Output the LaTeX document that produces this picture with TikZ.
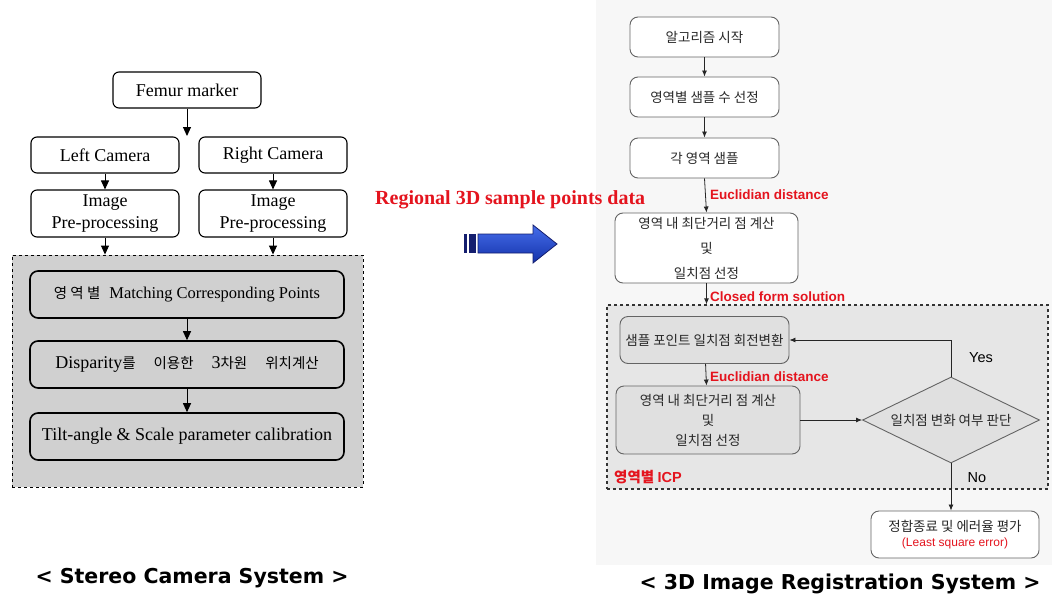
\documentclass[tikz,border=0pt]{standalone}
\usepackage{fontspec}
\setmainfont{Liberation Serif}
\newfontfamily\kr{Noto Sans CJK KR}
\newfontfamily\arialf{Liberation Sans}
\newfontfamily\verd{DejaVu Sans}
\usetikzlibrary{shapes.geometric,arrows.meta}
\definecolor{lred}{RGB}{228,20,30}
\definecolor{lgray}{RGB}{208,208,208}
\definecolor{icpgray}{RGB}{230,230,230}
\definecolor{boxgray}{RGB}{224,224,224}
\definecolor{bordgray}{RGB}{100,100,100}
\definecolor{txtgray}{RGB}{40,40,40}
\definecolor{navy}{RGB}{20,30,110}
\tikzset{
  lbox/.style={draw=black, line width=1.1pt, rounded corners=6pt, fill=white, inner sep=0pt, align=center, font=\fontsize{18}{22}\selectfont},
  gbox/.style={draw=black, line width=1.6pt, rounded corners=8pt, fill=lgray, inner sep=0pt, minimum width=314pt, minimum height=47pt, align=center, font=\fontsize{18}{20}\selectfont},
  rbox/.style={draw=bordgray, line width=0.9pt, rounded corners=8pt, fill=white, inner sep=0pt, align=center, text=txtgray, font=\kr\fontsize{13.5}{25}\selectfont},
  larr/.style={-{Triangle[length=9pt,width=8pt]}, line width=1pt},
  rarr/.style={-{Latex[length=6pt,width=5pt]}, line width=0.8pt, draw=black!85},
  redlab/.style={text=lred, font=\arialf\bfseries\fontsize{13.5}{15}\selectfont, anchor=west, inner sep=0pt},
}
\begin{document}
\begin{tikzpicture}[x=1pt,y=-1pt]
\useasboundingbox (0,0) rectangle (1052,597);
% right panel faint background
\fill[black!3] (596,0) rectangle (1052,565);

% ---------- Left: Stereo camera system ----------
\node[lbox, minimum width=148pt, minimum height=36pt] (femur) at (187,90) {Femur marker};
\node[lbox, minimum width=148pt, minimum height=36pt] (lcam) at (105,155) {Left Camera};
\node[lbox, minimum width=148pt, minimum height=36pt] (rcam) at (273,155) {Right Camera};
\node[lbox, minimum width=148pt, minimum height=47pt] (lpre) at (105,213.5) {Image\\Pre-processing};
\node[lbox, minimum width=148pt, minimum height=47pt] (rpre) at (273,213.5) {Image\\Pre-processing};
\node[draw=black, dashed, line width=0.9pt, fill=lgray, minimum width=351pt, minimum height=232pt, inner sep=0pt] (stereo) at (187.5,371) {};
\node[gbox] (b1) at (187,294.5) {{\kr\fontsize{14.5}{20}\selectfont 영 역 별}\ \ {\fontsize{16.5}{20}\selectfont Matching Corresponding Points}};
\node[gbox] (b2) at (187,364.5) {Disparity{\kr\fontsize{14.5}{20}\selectfont 를}\quad{\kr\fontsize{14.5}{20}\selectfont 이용한}\quad 3{\kr\fontsize{14.5}{20}\selectfont 차원}\quad{\kr\fontsize{14.5}{20}\selectfont 위치계산}};
\node[gbox] (b3) at (187,436.5) {Tilt-angle \& Scale parameter calibration};
\coordinate (fsplit) at (187,136);
\draw[larr] (femur.south) -- (fsplit);
\draw[larr] (lcam) -- (lpre);
\draw[larr] (rcam) -- (rpre);
\draw[larr] (lpre.south) -- (lpre.south |- stereo.north);
\draw[larr] (rpre.south) -- (rpre.south |- stereo.north);
\draw[larr] (b1) -- (b2);
\draw[larr] (b2) -- (b3);
\node[font=\verd\bfseries\fontsize{20.5}{22}\selectfont, inner sep=0pt] (lcap) at (192,578) {< Stereo Camera System >};

% ---------- Middle ----------
\node[text=lred, font=\bfseries\fontsize{20}{22}\selectfont, inner sep=0pt, anchor=west] (reg) at (375,200) {Regional 3D sample points data};
\fill[navy] (464,234) rectangle (467,253);
\fill[navy] (469,234) rectangle (476,253);
\draw[navy, line width=0.8pt, top color={rgb,255:red,70;green,110;blue,235}, bottom color={rgb,255:red,20;green,50;blue,170}]
  (478,234) -- (533,234) -- (533,225) -- (557,244) -- (533,263) -- (533,253) -- (478,253) -- cycle;

% ---------- Right: 3D image registration ----------
\node[rbox, minimum width=149pt, minimum height=40pt] (r1) at (704.5,37) {알고리즘 시작};
\node[rbox, minimum width=149pt, minimum height=40pt] (r2) at (704.5,97) {영역별 샘플 수 선정};
\node[rbox, minimum width=149pt, minimum height=40pt] (r3) at (704.5,158) {각 영역 샘플};
\node[rbox, minimum width=183pt, minimum height=70pt] (r4) at (706.5,248) {영역 내 최단거리 점 계산\\및\\일치점 선정};
\node[draw=black!80, dashed, line width=1.3pt, fill=icpgray, minimum width=441pt, minimum height=184pt, inner sep=0pt] (icp) at (827.5,397) {};
\node[rbox, fill=boxgray, minimum width=169pt, minimum height=47pt] (r5) at (704.5,340) {샘플 포인트 일치점 회전변환};
\node[rbox, fill=boxgray, minimum width=184pt, minimum height=68pt, font=\kr\fontsize{13.5}{20}\selectfont] (r6) at (708,420) {영역 내 최단거리 점 계산\\및\\일치점 선정};
\node[diamond, aspect=2.06, draw=bordgray, line width=0.9pt, fill=boxgray, minimum width=177pt, minimum height=86pt, inner sep=0pt, text=txtgray, font=\kr\fontsize{13.5}{15}\selectfont] (dec) at (951,420) {일치점 변화 여부 판단};
\node[rbox, minimum width=168pt, minimum height=47pt, font=\kr\fontsize{13.5}{15}\selectfont] (r7) at (955,534.5) {정합종료 및 에러율 평가\\{\arialf\color{lred}\fontsize{12}{15}\selectfont(Least square error)}};

\draw[rarr] (r1) -- (r2);
\draw[rarr] (r2) -- (r3);
\draw[rarr] (r3.south) -- (r4.north);
\draw[rarr] (r4.south) -- (r4.south |- icp.north);
\draw[rarr] (r5) -- (r6);
\draw[rarr] (r6) -- (dec);
\draw[rarr] (dec.north) |- (r5.east);
\draw[rarr] (dec.south) -- (dec.south |- r7.north);

\node[redlab] (e1) at (710,195) {Euclidian distance};
\node[redlab] (cf) at (710,297) {Closed form solution};
\node[redlab] (e2) at (710,377) {Euclidian distance};
\node[font=\arialf\fontsize{14.5}{16}\selectfont, inner sep=0pt] (yes) at (981,358) {Yes};
\node[font=\arialf\fontsize{14.5}{16}\selectfont, inner sep=0pt] (no) at (977,478) {No};
\node[text=lred, font=\kr\bfseries\fontsize{14.5}{15}\selectfont, inner sep=0pt, anchor=west] (icplab) at (614,477) {영역별 {\arialf ICP}};
\node[font=\verd\bfseries\fontsize{20.5}{22}\selectfont, inner sep=0pt] (rcap) at (840,584) {< 3D Image Registration System >};
\end{tikzpicture}
\end{document}
